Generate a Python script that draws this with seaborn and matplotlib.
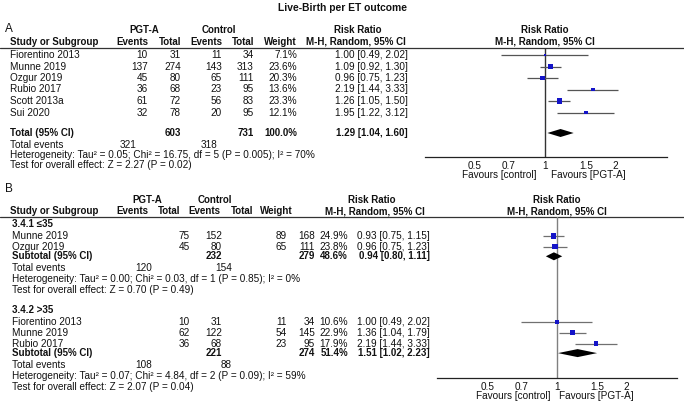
import numpy as np
import pandas as pd
import seaborn as sns
import matplotlib.pyplot as plt

# -------------- DONNEES -------------------#

titre = "Live-Birth per ET outcome"

# Panel A
studies_a = ["Fiorentino 2013", "Munne 2019", "Ozgur 2019", "Rubio 2017", "Scott 2013a", "Sui 2020"]
pgt_events_a = [10, 137, 45, 36, 61, 32]
pgt_total_a = [31, 274, 80, 68, 72, 78]
ctl_events_a = [11, 143, 65, 23, 56, 20]
ctl_total_a = [34, 313, 111, 95, 83, 95]
weight_a = [7.1, 23.6, 20.3, 13.6, 23.3, 12.1]
rr_a = [1.00, 1.09, 0.96, 2.19, 1.26, 1.95]
lo_a = [0.49, 0.92, 0.75, 1.44, 1.05, 1.22]
hi_a = [2.02, 1.30, 1.23, 3.33, 1.50, 3.12]
total_a = {"pgt_total": 603, "ctl_total": 731, "weight": 100.0, "rr": 1.29, "lo": 1.04, "hi": 1.60,
           "pgt_events": 321, "ctl_events": 318}
het_a = "Heterogeneity: Tau\u00b2 = 0.05; Chi\u00b2 = 16.75, df = 5 (P = 0.005); I\u00b2 = 70%"
test_a = "Test for overall effect: Z = 2.27 (P = 0.02)"

# Panel B - sous-groupe 3.4.1
studies_b1 = ["Munne 2019", "Ozgur 2019"]
pgt_events_b1 = [75, 45]
pgt_total_b1 = [152, 80]
ctl_events_b1 = [89, 65]
ctl_total_b1 = [168, 111]
weight_b1 = [24.9, 23.8]
rr_b1 = [0.93, 0.96]
lo_b1 = [0.75, 0.75]
hi_b1 = [1.15, 1.23]
sub_b1 = {"pgt_total": 232, "ctl_total": 279, "weight": 48.6, "rr": 0.94, "lo": 0.80, "hi": 1.11,
          "pgt_events": 120, "ctl_events": 154}
het_b1 = "Heterogeneity: Tau\u00b2 = 0.00; Chi\u00b2 = 0.03, df = 1 (P = 0.85); I\u00b2 = 0%"
test_b1 = "Test for overall effect: Z = 0.70 (P = 0.49)"

# Panel B - sous-groupe 3.4.2
studies_b2 = ["Fiorentino 2013", "Munne 2019", "Rubio 2017"]
pgt_events_b2 = [10, 62, 36]
pgt_total_b2 = [31, 122, 68]
ctl_events_b2 = [11, 54, 23]
ctl_total_b2 = [34, 145, 95]
weight_b2 = [10.6, 22.9, 17.9]
rr_b2 = [1.00, 1.36, 2.19]
lo_b2 = [0.49, 1.04, 1.44]
hi_b2 = [2.02, 1.79, 3.33]
sub_b2 = {"pgt_total": 221, "ctl_total": 274, "weight": 51.4, "rr": 1.51, "lo": 1.02, "hi": 2.23,
          "pgt_events": 108, "ctl_events": 88}
het_b2 = "Heterogeneity: Tau\u00b2 = 0.07; Chi\u00b2 = 4.84, df = 2 (P = 0.09); I\u00b2 = 59%"
test_b2 = "Test for overall effect: Z = 2.07 (P = 0.04)"

tick_vals = [0.5, 0.7, 1, 1.5, 2]
tick_labels = ["0.5", "0.7", "1", "1.5", "2"]

# -------------- FIGURE -------------------#

sns.set_theme(style='white')
plt.rcParams['font.family'] = ['Liberation Sans', 'DejaVu Sans']

W, H = 684, 404
FS = 7.2      # texte normal
FSB = 7.0     # texte gras
INK = '#111111'
fig = plt.figure(figsize=(6.84, 4.04), dpi=100)
bg = fig.add_axes([0, 0, 1, 1])
bg.set_xlim(0, W)
bg.set_ylim(H, 0)
bg.axis('off')


def txt(x, y, s, ha='left', bold=False, size=None):
    if size is None:
        size = FSB if bold else FS
    bg.text(x, y, s, ha=ha, va='center', fontsize=size,
            fontweight='bold' if bold else 'normal', color=INK)


def rr_str(r, l, h):
    return f"{r:.2f} [{l:.2f}, {h:.2f}]"


def forest_axes(x0, x1, ytop, ybot, center, pxu, stretch, vcol):
    ax = fig.add_axes([x0 / W, 1 - ybot / H, (x1 - x0) / W, (ybot - ytop) / H])
    ax.set_xscale('log')
    ax.set_xlim(np.exp((x0 - center) / pxu), np.exp((x1 - center) / pxu))
    ax.set_ylim(ybot, ytop)
    ax.patch.set_alpha(0)
    for s in ['left', 'right', 'top']:
        ax.spines[s].set_visible(False)
    ax.spines['bottom'].set_color('#222222')
    ax.spines['bottom'].set_linewidth(0.9)
    ax.set_yticks([])
    ax.minorticks_off()
    ax.set_xticks([t ** stretch for t in tick_vals])
    ax.set_xticklabels(tick_labels, fontsize=FS, color=INK)
    ax.tick_params(axis='x', direction='inout', length=5, width=0.8, pad=0.3, colors='#222222',
                   labelcolor=INK)
    ax.axvline(1, color=vcol, lw=1.0, zorder=1)
    return ax


def draw_studies(ax, df, ci_col):
    ax.hlines(df['y'], df['lo'], df['hi'], color=ci_col, lw=0.9, zorder=2)
    sns.scatterplot(data=df, x='rr', y='y', size='weight', sizes=(0, 15), size_norm=(0, 25),
                    marker='s', color='#1414c8', linewidth=0, legend=False, ax=ax, zorder=3)
    ax.set_xlabel('')
    ax.set_ylabel('')


def diamond(ax, r, l, h, y, half=4):
    ax.fill([l, r, h, r], [y, y - half, y, y + half], color='black', lw=0, zorder=3)


def study_rows(names, ev1, t1, ev2, t2, w, r, l, h, y0, dy):
    return pd.DataFrame({'study': names, 'pgt_events': ev1, 'pgt_total': t1,
                         'ctl_events': ev2, 'ctl_total': t2, 'weight': w,
                         'rr': r, 'lo': l, 'hi': h, 'y': y0 + dy * np.arange(len(names))})


# titre
txt(W / 2, 8, titre, ha='center', bold=True, size=7.4)

# ======== Panel A ========
colA = dict(ev1=148, tot1=181, ev2=222, tot2=254, wt=297, rr=408)
txt(5, 29, "A", size=8.5)
txt(144, 30, "PGT-A", ha='center', bold=True)
txt(219, 30, "Control", ha='center', bold=True)
txt(358, 30, "Risk Ratio", ha='center', bold=True)
txt(545, 30, "Risk Ratio", ha='center', bold=True)
txt(10, 42, "Study or Subgroup", bold=True)
txt(colA['ev1'], 42, "Events", ha='right', bold=True)
txt(colA['tot1'], 42, "Total", ha='right', bold=True)
txt(colA['ev2'], 42, "Events", ha='right', bold=True)
txt(colA['tot2'], 42, "Total", ha='right', bold=True)
txt(colA['wt'], 42, "Weight", ha='right', bold=True)
txt(356, 42, "M-H, Random, 95% CI", ha='center', bold=True)
txt(545, 42, "M-H, Random, 95% CI", ha='center', bold=True)
bg.plot([0, W], [48, 48], color='#333333', lw=0.9)

dfa = study_rows(studies_a, pgt_events_a, pgt_total_a, ctl_events_a, ctl_total_a,
                 weight_a, rr_a, lo_a, hi_a, 55, 11.5)
for _, row in dfa.iterrows():
    txt(10, row['y'], row['study'])
    txt(colA['ev1'], row['y'], f"{row['pgt_events']}", ha='right')
    txt(colA['tot1'], row['y'], f"{row['pgt_total']}", ha='right')
    txt(colA['ev2'], row['y'], f"{row['ctl_events']}", ha='right')
    txt(colA['tot2'], row['y'], f"{row['ctl_total']}", ha='right')
    txt(colA['wt'], row['y'], f"{row['weight']:.1f}%", ha='right')
    txt(colA['rr'], row['y'], rr_str(row['rr'], row['lo'], row['hi']), ha='right')

yt = 133
txt(10, yt, "Total (95% CI)", bold=True)
txt(colA['tot1'], yt, f"{total_a['pgt_total']}", ha='right', bold=True)
txt(colA['tot2'], yt, f"{total_a['ctl_total']}", ha='right', bold=True)
txt(colA['wt'], yt, f"{total_a['weight']:.1f}%", ha='right', bold=True)
txt(colA['rr'], yt, rr_str(total_a['rr'], total_a['lo'], total_a['hi']), ha='right', bold=True)
txt(10, 145, "Total events")
txt(137, 145, f"{total_a['pgt_events']}", ha='right')
txt(217, 145, f"{total_a['ctl_events']}", ha='right')
txt(10, 155, het_a)
txt(10, 165, test_a)

axA = forest_axes(425, 667, 48, 157, 545, 61, 1.655, '#333333')
draw_studies(axA, dfa, '#555555')
diamond(axA, total_a['rr'], total_a['lo'], total_a['hi'], yt)
txt(537, 175, "Favours [control]", ha='right')
txt(551, 175, "Favours [PGT-A]")

# ======== Panel B ========
colB = dict(ev1=190, tot1=222, ev2=287, tot2=315, wt=348, rr=430)
txt(5, 189, "B", size=8.5)
txt(147, 200, "PGT-A", ha='center', bold=True)
txt(215, 200, "Control", ha='center', bold=True)
txt(372, 200, "Risk Ratio", ha='center', bold=True)
txt(557, 200, "Risk Ratio", ha='center', bold=True)
txt(10, 211, "Study or Subgroup", bold=True)
txt(148, 211, "Events", ha='right', bold=True)
txt(180, 211, "Total", ha='right', bold=True)
txt(220, 211, "Events", ha='right', bold=True)
txt(253, 211, "Total", ha='right', bold=True)
txt(293, 211, "Weight", ha='right', bold=True)
txt(375, 211, "M-H, Random, 95% CI", ha='center', bold=True)
txt(557, 211, "M-H, Random, 95% CI", ha='center', bold=True)
bg.plot([0, W], [217, 217], color='#333333', lw=0.9)

axB = forest_axes(437, 677, 217, 378, 557, 50, 2.0, '#808080')

groups = [
    ("3.4.1 \u226435", studies_b1, pgt_events_b1, pgt_total_b1, ctl_events_b1, ctl_total_b1,
     weight_b1, rr_b1, lo_b1, hi_b1, sub_b1, het_b1, test_b1, 224),
    ("3.4.2 >35", studies_b2, pgt_events_b2, pgt_total_b2, ctl_events_b2, ctl_total_b2,
     weight_b2, rr_b2, lo_b2, hi_b2, sub_b2, het_b2, test_b2, 310),
]
for (gname, st, e1, t1, e2, t2, w, r, l, h, sub, het, test, y0) in groups:
    txt(12, y0, gname, bold=True)
    dfb = study_rows(st, e1, t1, e2, t2, w, r, l, h, y0 + 12, 10.8)
    for _, row in dfb.iterrows():
        txt(12, row['y'], row['study'])
        txt(colB['ev1'], row['y'], f"{row['pgt_events']}", ha='right')
        txt(colB['tot1'], row['y'], f"{row['pgt_total']}", ha='right')
        txt(colB['ev2'], row['y'], f"{row['ctl_events']}", ha='right')
        txt(colB['tot2'], row['y'], f"{row['ctl_total']}", ha='right')
        txt(colB['wt'], row['y'], f"{row['weight']:.1f}%", ha='right')
        txt(colB['rr'], row['y'], rr_str(row['rr'], row['lo'], row['hi']), ha='right')
    ys = dfb['y'].iloc[-1] + 9.5
    txt(12, ys, "Subtotal (95% CI)", bold=True)
    txt(colB['tot1'], ys, f"{sub['pgt_total']}", ha='right', bold=True)
    txt(colB['tot2'], ys, f"{sub['ctl_total']}", ha='right', bold=True)
    txt(colB['wt'], ys, f"{sub['weight']:.1f}%", ha='right', bold=True)
    txt(colB['rr'], ys, rr_str(sub['rr'], sub['lo'], sub['hi']), ha='right', bold=True)
    txt(12, ys + 11.5, "Total events")
    txt(152, ys + 11.5, f"{sub['pgt_events']}", ha='right')
    txt(232, ys + 11.5, f"{sub['ctl_events']}", ha='right')
    txt(12, ys + 22.5, het)
    txt(12, ys + 33.5, test)
    draw_studies(axB, dfb, '#707070')
    diamond(axB, sub['rr'], sub['lo'], sub['hi'], ys)

txt(551, 396, "Favours [control]", ha='right')
txt(559, 396, "Favours [PGT-A]")

fig.savefig('out.png', dpi=100)
